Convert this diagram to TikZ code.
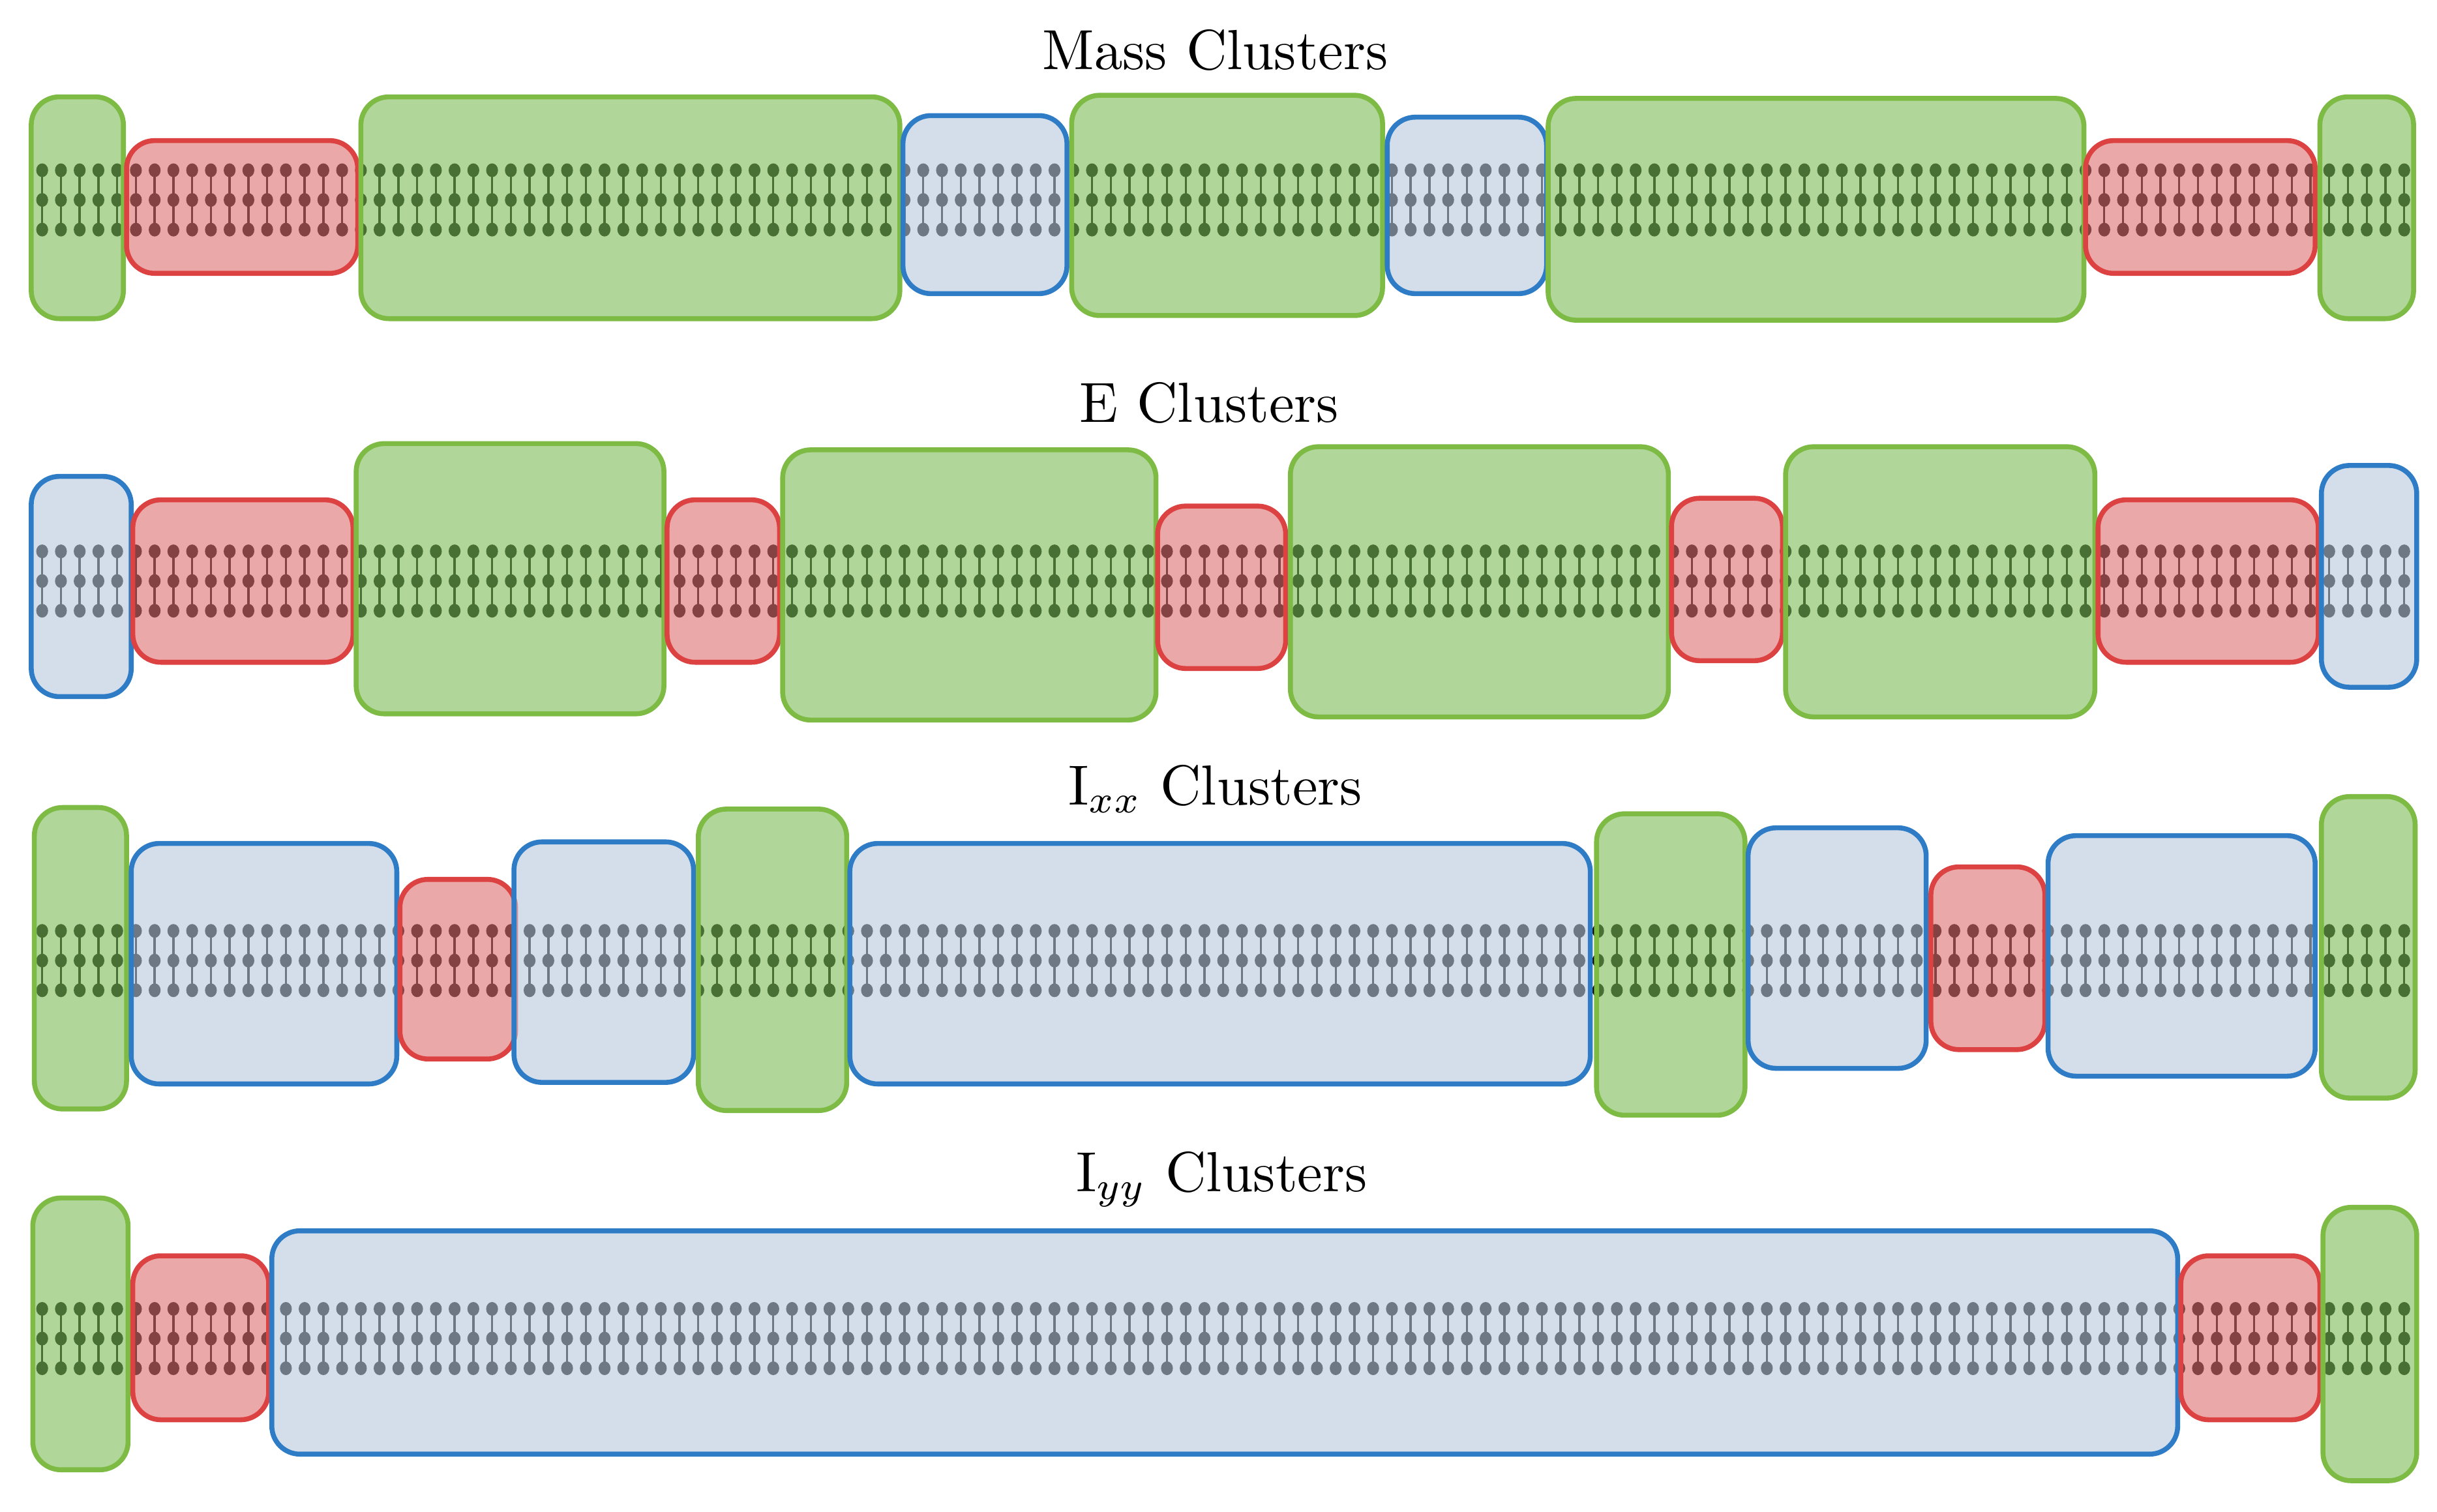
\documentclass[tikz,border=0pt]{standalone}
\usepackage{tikz}
\usetikzlibrary{calc}
\definecolor{gfill}{HTML}{7BBB57}
\definecolor{gline}{HTML}{7DBB44}
\definecolor{rfill}{HTML}{DE6E6E}
\definecolor{rline}{HTML}{DD4242}
\definecolor{bfill}{HTML}{B6C8DC}
\definecolor{bline}{HTML}{2F7CC6}
\tikzset{
  bead/.style={fill=black, draw=none},
  rung/.style={line width=0.4pt, black},
  clus/.style={rounded corners=1.8mm, line width=0.9pt, fill opacity=0.6},
  gbox/.style={clus, fill=gfill, draw=gline},
  rbox/.style={clus, fill=rfill, draw=rline},
  bbox/.style={clus, fill=bfill, draw=bline},
  ttl/.style={font=\fontsize{10.3}{12}\selectfont}
}
% one chain of beads, three strands around a centre line
\newcommand\beadchain[1]{%
  \foreach \x in {27,39,...,1540}{
    \draw[rung] (\x,#1-19) -- (\x,#1+19);
    \foreach \d in {-19,0,19}
      \fill[bead] (\x,#1+\d) ellipse (3.8 and 4.4);
  }
}
\begin{document}
\begin{tikzpicture}[x=0.1mm, y=-0.1mm]
\useasboundingbox (0,0) rectangle (1560,968);
%% titles
\node[ttl] (t1) at (778,32) {Mass Clusters};
\node[ttl] (t2) at (774,258) {E Clusters};
\node[ttl] (t3) at (778,505) {I$_{xx}$ Clusters};
\node[ttl] (t4) at (782,755) {I$_{yy}$ Clusters};
%% bead chains
\beadchain{128}
\beadchain{372}
\beadchain{615}
\beadchain{857}
%% mass clusters
\draw[gbox] (20,62) rectangle (79,204);
\draw[rbox] (81,90) rectangle (229,175);
\draw[gbox] (231,62) rectangle (576,204);
\draw[bbox] (578,74) rectangle (683,188);
\draw[gbox] (686,61) rectangle (885,202);
\draw[bbox] (888,75) rectangle (990,188);
\draw[gbox] (991,63) rectangle (1334,205);
\draw[rbox] (1335,90) rectangle (1482,175);
\draw[gbox] (1485,62) rectangle (1545,204);
%% E clusters
\draw[bbox] (20,305) rectangle (84,446);
\draw[rbox] (85,320) rectangle (226,424);
\draw[gbox] (228,284) rectangle (425,457);
\draw[rbox] (427,320) rectangle (499,424);
\draw[gbox] (501,288) rectangle (740,461);
\draw[rbox] (741,324) rectangle (823,428);
\draw[gbox] (826,286) rectangle (1068,459);
\draw[rbox] (1070,319) rectangle (1141,423);
\draw[gbox] (1143,286) rectangle (1341,459);
\draw[rbox] (1343,320) rectangle (1484,424);
\draw[bbox] (1486,298) rectangle (1547,440);
%% Ixx clusters
\draw[gbox] (22,517) rectangle (81,710);
\draw[bbox] (84,540) rectangle (254,694);
\draw[rbox] (256,563) rectangle (330,678);
\draw[bbox] (329,539) rectangle (444,693);
\draw[gbox] (447,518) rectangle (542,711);
\draw[bbox] (544,540) rectangle (1018,694);
\draw[gbox] (1022,521) rectangle (1117,714);
\draw[bbox] (1119,530) rectangle (1233,684);
\draw[rbox] (1236,555) rectangle (1309,672);
\draw[bbox] (1311,535) rectangle (1482,689);
\draw[gbox] (1486,510) rectangle (1546,703);
%% Iyy clusters
\draw[gbox] (21,767) rectangle (82,941);
\draw[rbox] (85,804) rectangle (172,909);
\draw[bbox] (174,788) rectangle (1394,931);
\draw[rbox] (1396,804) rectangle (1485,909);
\draw[gbox] (1487,773) rectangle (1547,948);
\end{tikzpicture}
\end{document}
